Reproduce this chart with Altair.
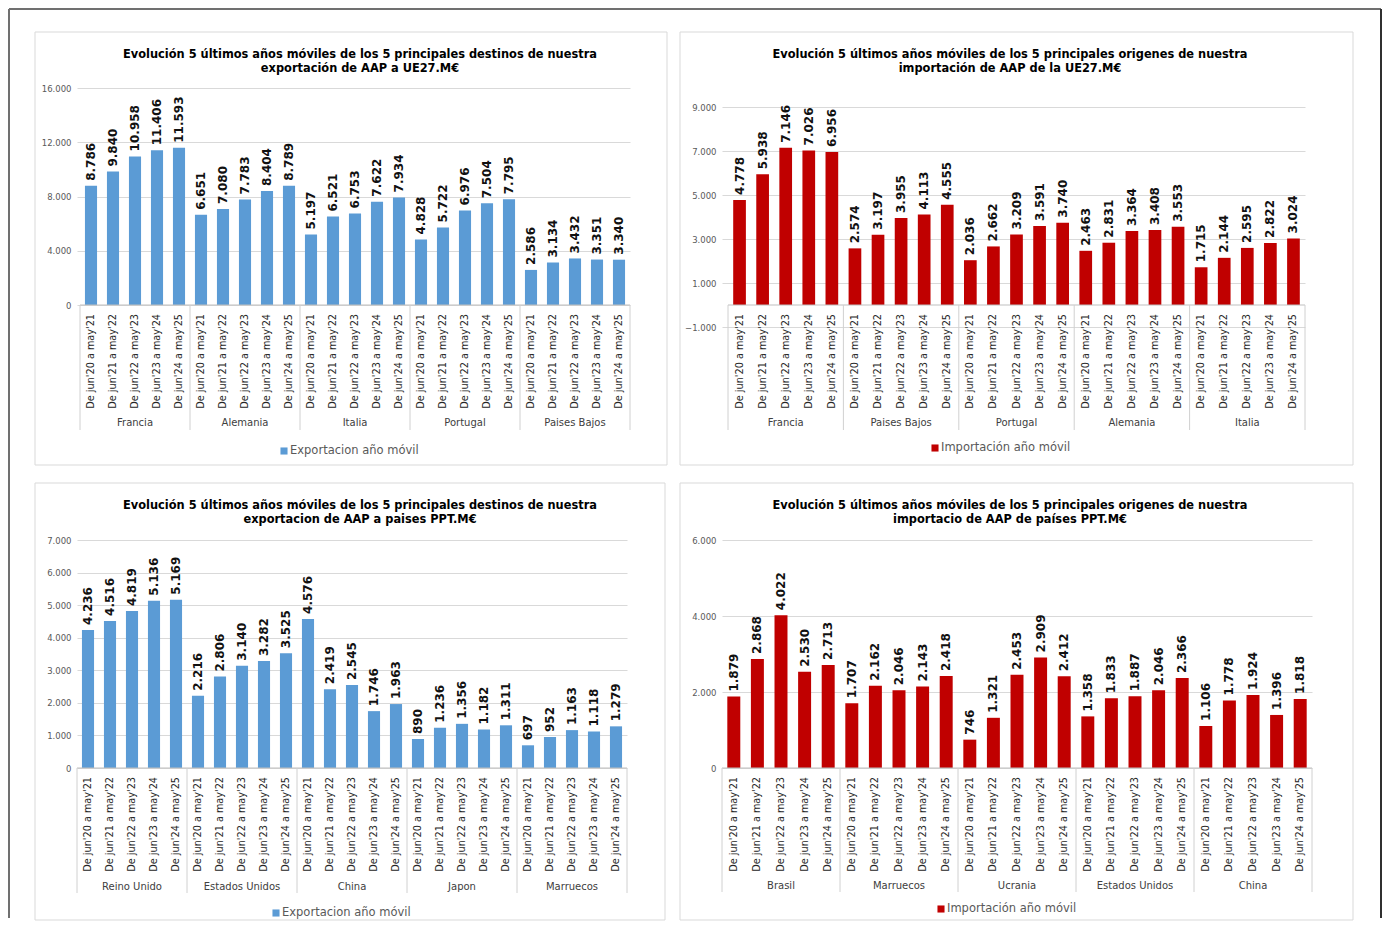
import altair as alt
import pandas as pd

periods = ["De jun'20 a may'21", "De jun'21 a may'22", "De jun'22 a may'23",
           "De jun'23 a may'24", "De jun'24 a may'25"]

# Panel 1: exportación UE27
p1_groups = ["Francia", "Alemania", "Italia", "Portugal", "Paises Bajos"]
p1_values = [[8786, 9840, 10958, 11406, 11593],
             [6651, 7080, 7783, 8404, 8789],
             [5197, 6521, 6753, 7622, 7934],
             [4828, 5722, 6976, 7504, 7795],
             [2586, 3134, 3432, 3351, 3340]]
p1_ticks = [0, 4000, 8000, 12000, 16000]
p1_title = ["Evolución 5 últimos años móviles de los 5 principales destinos de nuestra",
            "exportación de AAP a UE27.M€"]

# Panel 2: importación UE27
p2_groups = ["Francia", "Paises Bajos", "Portugal", "Alemania", "Italia"]
p2_values = [[4778, 5938, 7146, 7026, 6956],
             [2574, 3197, 3955, 4113, 4555],
             [2036, 2662, 3209, 3591, 3740],
             [2463, 2831, 3364, 3408, 3553],
             [1715, 2144, 2595, 2822, 3024]]
p2_ticks = [-1000, 1000, 3000, 5000, 7000, 9000]
p2_title = ["Evolución 5 últimos años móviles de los 5 principales origenes de nuestra",
            "importación de  AAP de la UE27.M€"]

# Panel 3: exportación países terceros
p3_groups = ["Reino Unido", "Estados Unidos", "China", "Japon", "Marruecos"]
p3_values = [[4236, 4516, 4819, 5136, 5169],
             [2216, 2806, 3140, 3282, 3525],
             [4576, 2419, 2545, 1746, 1963],
             [890, 1236, 1356, 1182, 1311],
             [697, 952, 1163, 1118, 1279]]
p3_ticks = [0, 1000, 2000, 3000, 4000, 5000, 6000, 7000]
p3_title = ["Evolución 5 últimos años móviles de los 5 principales destinos de nuestra",
            "exportacion de AAP a paises PPT.M€"]

# Panel 4: importación países terceros
p4_groups = ["Brasil", "Marruecos", "Ucrania", "Estados Unidos", "China"]
p4_values = [[1879, 2868, 4022, 2530, 2713],
             [1707, 2162, 2046, 2143, 2418],
             [746, 1321, 2453, 2909, 2412],
             [1358, 1833, 1887, 2046, 2366],
             [1106, 1778, 1924, 1396, 1818]]
p4_ticks = [0, 2000, 4000, 6000]
p4_title = ["Evolución 5 últimos años móviles de los 5 principales origenes de nuestra",
            "importacio de AAP de países PPT.M€"]

legend_exp = "Exportacion año móvil"
legend_imp = "Importación año móvil"

BLUE = "#5B9BD5"
RED = "#C00000"
FONT = "DejaVu Sans"
FMT = "replace(format(datum.value, ',.0f'), ',', '.')"


def panel(groups, values, ticks, title, legend_text, color, ydom, W, H, xlo, geo, frame=False):
    rows = []
    for gi, g in enumerate(groups):
        for pi, per in enumerate(periods):
            rows.append({"idx": gi * 5 + pi, "group": g, "period": per, "value": values[gi][pi]})
    df = pd.DataFrame(rows)
    gdf = pd.DataFrame({"group": groups, "gidx": list(range(len(groups)))})
    sdf = pd.DataFrame({"sep": list(range(len(groups) + 1))})
    one = pd.DataFrame({"k": [0]})

    xsc = alt.Scale(domain=[xlo, 25], nice=False, zero=False)
    ysc = alt.Scale(domain=ydom, nice=False, zero=False)
    yaxis = alt.Axis(values=ticks, grid=True, gridColor="#D9D9D9", domain=False,
                     ticks=False, labelColor="#595959", labelFontSize=8.5,
                     labelFont=FONT, labelPadding=6, title=None, labelExpr=FMT)

    base = alt.Chart(df).transform_calculate(
        x0="datum.idx + 0.225", x1="datum.idx + 0.775", xm="datum.idx + 0.5",
        z="0", label=FMT)

    bars = base.mark_bar(color=color).encode(
        x=alt.X("x0:Q", scale=xsc, axis=None),
        x2="x1:Q",
        y=alt.Y("value:Q", scale=ysc, axis=yaxis),
        y2="z:Q")

    box = alt.Chart(one).mark_rect(fillOpacity=0, stroke="#D9D9D9", strokeWidth=1).encode(
        x=alt.value(geo["box"][0]), x2=alt.value(geo["box"][1]),
        y=alt.value(geo["box"][2]), y2=alt.value(geo["box"][3]))

    vlab = base.mark_text(angle=270, align="left", baseline="middle", dx=5, font=FONT,
                          fontSize=12, fontWeight="bold", color="#111111").encode(
        x=alt.X("xm:Q", scale=xsc, axis=None),
        y=alt.Y("value:Q", scale=ysc, axis=yaxis),
        text="label:N")

    plab = base.mark_text(angle=270, align="right", baseline="middle", dx=-9, font=FONT,
                          fontSize=9.7, color="#262626").encode(
        x=alt.X("xm:Q", scale=xsc, axis=None),
        y=alt.Y("z:Q", scale=ysc, axis=yaxis),
        text="period:N")

    baseline = alt.Chart(one).transform_calculate(a="0", b="25", z="0").mark_rule(
        color="#BFBFBF", strokeWidth=1).encode(
        x=alt.X("a:Q", scale=xsc, axis=None), x2="b:Q",
        y=alt.Y("z:Q", scale=ysc, axis=yaxis))

    seps = alt.Chart(sdf).transform_calculate(sx="datum.sep * 5").mark_rule(
        color="#D0D0D0", strokeWidth=1).encode(
        x=alt.X("sx:Q", scale=xsc, axis=None),
        y=alt.value(geo["base"]), y2=alt.value(geo["sepb"]))

    glab = alt.Chart(gdf).transform_calculate(gc="datum.gidx * 5 + 2.5").mark_text(
        font=FONT, fontSize=10, color="#404040", baseline="middle").encode(
        x=alt.X("gc:Q", scale=xsc, axis=None),
        y=alt.value(geo["gy"]),
        text="group:N")

    t1 = alt.Chart(one).mark_text(font=FONT, fontSize=11.4, fontWeight="bold", color="#000000",
                                  align="center", baseline="middle").encode(
        x=alt.value(geo["tx"]), y=alt.value(geo["ty"][0]), text=alt.value(title[0]))
    t2 = alt.Chart(one).mark_text(font=FONT, fontSize=11.4, fontWeight="bold", color="#000000",
                                  align="center", baseline="middle").encode(
        x=alt.value(geo["tx"]), y=alt.value(geo["ty"][1]), text=alt.value(title[1]))

    lsq = alt.Chart(one).mark_square(size=50, color=color, opacity=1).encode(
        x=alt.value(geo["leg"][0]), y=alt.value(geo["leg"][2]))
    ltx = alt.Chart(one).mark_text(font=FONT, fontSize=11.5, color="#595959", align="left",
                                   baseline="middle").encode(
        x=alt.value(geo["leg"][1]), y=alt.value(geo["leg"][2]), text=alt.value(legend_text))

    layers = [bars, box]
    if frame:
        fl = -68
        fr = 1304
        ft = -79
        fb = 830
        layers += [
            alt.Chart(one).mark_rule(color="#707070", strokeWidth=2).encode(
                x=alt.value(fl), x2=alt.value(fr), y=alt.value(ft)),
            alt.Chart(one).mark_rule(color="#707070", strokeWidth=2).encode(
                x=alt.value(fl), y=alt.value(ft), y2=alt.value(fb)),
            alt.Chart(one).mark_rule(color="#303030", strokeWidth=2).encode(
                x=alt.value(fr), y=alt.value(ft), y2=alt.value(fb)),
        ]
    layers += [baseline, seps, vlab, plab, glab, t1, t2, lsq, ltx]
    return alt.layer(*layers).properties(width=W, height=H)


g1 = {"box": (-42, 590, -56, 377), "base": 217, "sepb": 342, "gy": 335,
      "tx": 283, "ty": (-33, -19), "leg": (207, 213, 363)}
g2 = {"box": (-42, 631, -56, 377), "base": 217, "sepb": 342, "gy": 335,
      "tx": 288, "ty": (-33, -19), "leg": (213, 219, 360)}
g3 = {"box": (-42, 588, -57, 380), "base": 228, "sepb": 353, "gy": 347,
      "tx": 283, "ty": (-34, -20), "leg": (199, 205, 373)}
g4 = {"box": (-42, 631, -57, 380), "base": 228, "sepb": 352, "gy": 346,
      "tx": 288, "ty": (-34, -20), "leg": (219, 225, 369)}

c1 = panel(p1_groups, p1_values, p1_ticks, p1_title, legend_exp, BLUE,
           [0, 16000], 553, 217, -3 / 22, g1, frame=True)
c2 = panel(p2_groups, p2_values, p2_ticks, p2_title, legend_imp, RED,
           [-1000, 9000 + 19 / 220 * 10000], 583, 239, -6 / 23.08, g2)
c3 = panel(p3_groups, p3_values, p3_ticks, p3_title, legend_exp, BLUE,
           [0, 7000], 550, 228, 0, g3)
c4 = panel(p4_groups, p4_values, p4_ticks, p4_title, legend_imp, RED,
           [0, 6000], 590, 228, 0, g4)

chart = alt.concat(c1, c2, c3, c4, columns=2, spacing={"row": 213, "column": 92},
                   bounds="flush", align="each").properties(padding=0).configure(
    font=FONT).configure_view(stroke=None)

chart.save("out.html", embed_options={"renderer": "svg", "actions": False})
